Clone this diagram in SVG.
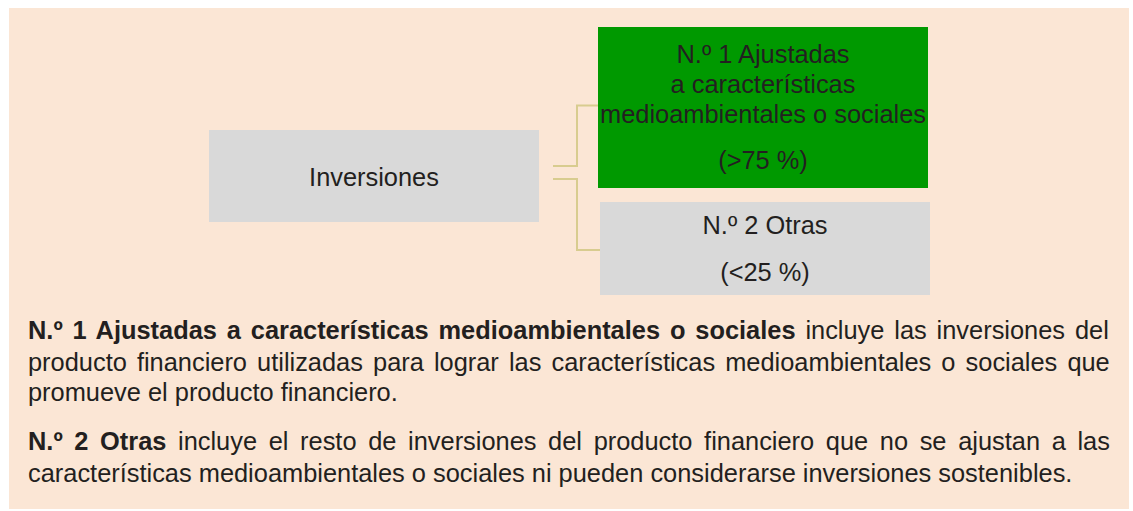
<svg xmlns="http://www.w3.org/2000/svg" width="1133" height="511" viewBox="0 0 1133 511">
  <style>
    text { font-family: "Liberation Sans", Arial, sans-serif; font-size: 25.4px; fill: #231f20; }
    .c { text-anchor: middle; }
    .b { font-weight: bold; }
    .box { fill: #d9d9d9; }
    .conn { fill: none; stroke: #d8cc8f; stroke-width: 2; }
  </style>
  <rect x="9" y="8" width="1120" height="501" fill="#fbe6d5"/>
  <g id="connectors">
    <path class="conn" d="M553,166 H577 V105.5 H598"/>
    <path class="conn" d="M553,179 H577 V250 H600"/>
  </g>
  <g id="node-inversiones">
    <rect class="box" x="209" y="130" width="330" height="92"/>
    <text class="c" x="374" y="186">Inversiones</text>
  </g>
  <g id="node-ajustadas">
    <rect x="598" y="27" width="330" height="161" fill="#009900"/>
    <text class="c" x="763" y="63">N.º 1 Ajustadas</text>
    <text class="c" x="763" y="93">a características</text>
    <text class="c" x="763" y="123">medioambientales o sociales</text>
    <text class="c" x="763" y="169">(&gt;75 %)</text>
  </g>
  <g id="node-otras">
    <rect class="box" x="600" y="202" width="330" height="93"/>
    <text class="c" x="765" y="234">N.º 2 Otras</text>
    <text class="c" x="765" y="281">(&lt;25 %)</text>
  </g>
  <g id="description">
    <text x="28" y="339" word-spacing="2.81"><tspan class="b">N.º 1 Ajustadas a características medioambientales o sociales</tspan> incluye las inversiones del</text>
    <text x="28" y="371" word-spacing="3.03">producto financiero utilizadas para lograr las características medioambientales o sociales que</text>
    <text x="28" y="401">promueve el producto financiero.</text>
    <text x="28" y="450" word-spacing="4.58"><tspan class="b">N.º 2 Otras</tspan> incluye el resto de inversiones del producto financiero que no se ajustan a las</text>
    <text x="28" y="482">características medioambientales o sociales ni pueden considerarse inversiones sostenibles.</text>
  </g>
</svg>
